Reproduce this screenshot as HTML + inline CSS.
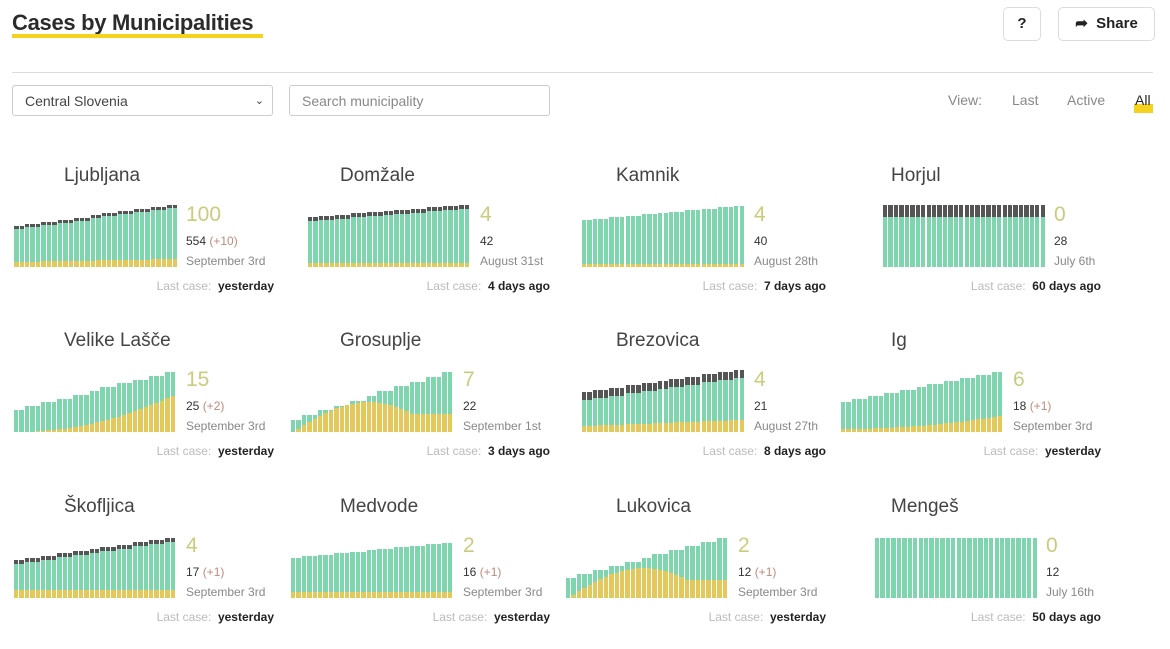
<!DOCTYPE html>
<html><head><meta charset="utf-8">
<style>
body{margin:0;width:1170px;height:649px;background:#fff;font-family:"Liberation Sans",sans-serif;position:relative;overflow:hidden;color:#333}
.a{position:absolute;white-space:nowrap}
.title{left:12px;top:10px;font-size:22px;font-weight:bold;color:#2b2b2b;letter-spacing:-0.3px}
.uline{left:12px;top:34px;width:251px;height:4px;background:#f5d21e}
.btn{position:absolute;border:1px solid #ddd;border-radius:5px;background:#fff;font-weight:bold;font-size:15px;color:#222;text-align:center;line-height:32px}
.hr{left:12px;top:72px;width:1141px;height:1px;background:#ddd}
.inp{position:absolute;border:1px solid #ccc;border-radius:3px;height:31px;font-size:14px;color:#444;line-height:31px;padding-left:12px;box-sizing:border-box}
.view{top:92px;font-size:14px;color:#888}
.name{font-size:19px;color:#444}
.big{font-size:21px;color:#c9cc7c}
.num{font-size:12px;color:#333}
.num span{color:#c08a7a}
.date{font-size:12px;color:#888}
.last{font-size:12px;color:#bbb;text-align:right}
.last b{color:#222}
</style></head><body>
<div class="a title">Cases by Municipalities</div>
<div class="a uline"></div>
<div class="btn" style="left:1003px;top:7px;width:36px;height:32px">?</div>
<div class="btn" style="left:1058px;top:7px;width:95px;height:32px">&#10150;&nbsp; Share</div>
<div class="a hr"></div>
<div class="inp" style="left:12px;top:85px;width:261px">Central Slovenia<span style="position:absolute;right:8px;top:0;font-size:11px">&#8964;</span></div>
<div class="inp" style="left:289px;top:85px;width:261px;color:#888">Search municipality</div>
<div class="a view" style="left:948px">View:</div>
<div class="a view" style="left:1012px">Last</div>
<div class="a view" style="left:1067px">Active</div>
<div class="a" style="left:1134px;top:104px;width:19px;height:9px;background:#f5d21e"></div>
<div class="a view" style="left:1135px;color:#222">All</div>
<div id="c"></div>
<script>
var C=[
["Ljubljana",14,164,267,186,"100","554",'(+10)',"September 3rd","yesterday",41,62,5,8,3,0],
["Domžale",308,162,267,480,"4","42","","August 31st","4 days ago",50,62,4,4,4,0],
["Kamnik",582,163,267,754,"4","40","","August 28th","7 days ago",47,61,3,3,0,0],
["Horjul",883,163,267,1054,"0","28","","July 6th","60 days ago",62,62,0,0,12,0],
["Velike Lašče",14,162,432,186,"15","25","(+2)","September 3rd","yesterday",22,60,0,36,0,1],
["Grosuplje",291,162,432,463,"7","22","","September 1st","3 days ago",12,60,0,30,0,2],
["Brezovica",582,163,432,754,"4","21","","August 27th","8 days ago",40,62,6,12,8,0],
["Ig",841,162,432,1013,"6","18","(+1)","September 3rd","yesterday",30,60,3,16,0,1],
["Škofljica",14,162,598,186,"4","17","(+1)","September 3rd","yesterday",38,60,8,8,4,0],
["Medvode",291,162,598,463,"2","16","(+1)","September 3rd","yesterday",40,55,6,6,0,0],
["Lukovica",566,162,598,738,"2","12","(+1)","September 3rd","yesterday",20,60,0,30,0,2],
["Menge\u0161",875,163,598,1046,"0","12","","July 16th","50 days ago",60,60,0,0,0,0]];
var h="",ends=[274,550,826,1101],nxs=[64,340,616,891];
C.forEach(function(d,i){
 var x=d[1],w=d[2],b=d[3],n=30,st=w/n,col=i%4;
 h+='<div class="a name" style="left:'+nxs[col]+'px;top:'+(b-102)+'px">'+d[0]+'</div>';
 for(var k=0;k<n;k++){
  var t=k/(n-1),hh=Math.round(d[10]+(d[11]-d[10])*Math.round(t*10)/10),y;
  if(d[15]==1)y=Math.round(d[12]+(d[13]-d[12])*Math.pow(t,2));
  else if(d[15]==2)y=Math.round(d[13]*Math.sin(Math.PI*Math.min(1,t*1.3)*0.8));
  else y=Math.round(d[12]+(d[13]-d[12])*t);
  var g=d[14],L=(x+k*st).toFixed(1),W=(st-1).toFixed(1);
  h+='<div class="a" style="left:'+L+'px;top:'+(b-hh)+'px;width:'+W+'px;height:'+(hh-y)+'px;background:#7fd6ae"></div>';
  if(y>0)h+='<div class="a" style="left:'+L+'px;top:'+(b-y)+'px;width:'+W+'px;height:'+y+'px;background:#e3c95c"></div>';
  if(g)h+='<div class="a" style="left:'+L+'px;top:'+(b-hh)+'px;width:'+W+'px;height:'+g+'px;background:#555"></div>';
 }
 var nx=d[4];
 h+='<div class="a big" style="left:'+nx+'px;top:'+(b-64)+'px">'+d[5]+'</div>';
 h+='<div class="a num" style="left:'+nx+'px;top:'+(b-33)+'px">'+d[6]+(d[7]?' <span>'+d[7]+'</span>':'')+'</div>';
 h+='<div class="a date" style="left:'+nx+'px;top:'+(b-13)+'px">'+d[8]+'</div>';
 h+='<div class="a last" style="right:'+(1170-ends[col])+'px;top:'+(b+12)+'px">Last case:&nbsp; <b>'+d[9]+'</b></div>';
});
document.getElementById("c").innerHTML=h;
</script>
</body></html>
